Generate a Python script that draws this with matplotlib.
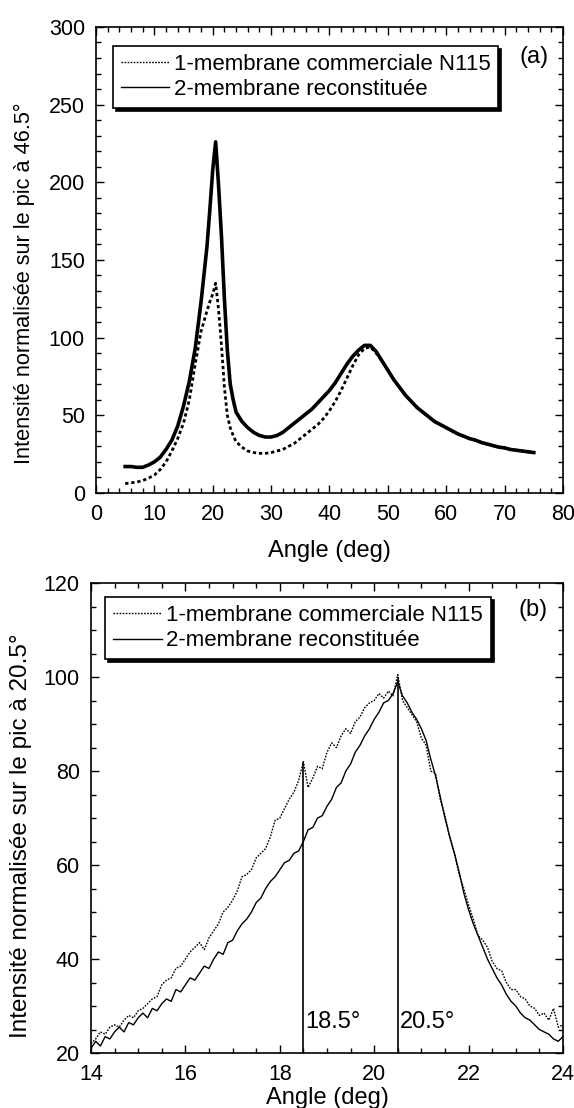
import matplotlib
matplotlib.use('Agg')
import matplotlib.pyplot as plt
from matplotlib.ticker import MultipleLocator

plt.rcParams['font.family'] = ['Liberation Sans', 'DejaVu Sans']

# (a) full scan, normalised on the 46.5 deg peak
angle_a = [5, 6, 7, 8, 9, 10, 11, 12, 13, 14, 15, 16, 17, 18, 19, 19.5, 20, 20.5,
           21, 21.5, 22, 22.5, 23, 23.5, 24, 25, 26, 27, 28, 29, 30, 31, 32, 33, 34,
           35, 36, 37, 38, 39, 40, 41, 42, 43, 44, 45, 46, 47, 48, 49, 50, 51, 52,
           53, 54, 55, 56, 57, 58, 59, 60, 61, 62, 63, 64, 65, 66, 67, 68, 69, 70,
           71, 72, 73, 74, 75]
n115_a = [6, 6.5, 7, 8, 9.5, 11.5, 15, 20, 27, 35, 45, 60, 83, 104, 117, 123, 128, 135,
          118, 95, 68, 50, 42, 37, 33, 29.5, 27, 26, 25.5, 25.5, 26, 27, 28, 30, 32,
          35, 38, 41, 44, 48, 53, 59, 66, 74, 82, 89, 93, 94, 90, 85, 79, 73, 68,
          63, 59, 55, 52, 49, 46, 44, 42, 40, 38, 36.5, 35, 34, 32.5, 31.5, 30.5, 29.5, 29,
          28, 27.5, 27, 26.5, 26]
recon_a = [17, 17, 16.5, 16.5, 18, 20, 23, 28, 34, 43, 56, 72, 93, 123, 158, 182, 208, 226,
           198, 165, 125, 92, 70, 60, 52, 46, 42, 39, 37, 36, 36, 37, 39, 42, 45,
           48, 51, 54, 58, 62, 66, 71, 77, 83, 88, 92, 95, 95, 91, 85, 79, 73, 68,
           63, 59, 55, 52, 49, 46, 44, 42, 40, 38, 36.5, 35, 34, 32.5, 31.5, 30.5, 29.5, 29,
           28, 27.5, 27, 26.5, 26]

# (b) zoom on the 20.5 deg peak, normalised on it
angle_b = [14.0, 14.1, 14.2, 14.3, 14.4, 14.5, 14.6, 14.7, 14.8, 14.9,
           15.0, 15.1, 15.2, 15.3, 15.4, 15.5, 15.6, 15.7, 15.8, 15.9,
           16.0, 16.1, 16.2, 16.3, 16.4, 16.5, 16.6, 16.7, 16.8, 16.9,
           17.0, 17.1, 17.2, 17.3, 17.4, 17.5, 17.6, 17.7, 17.8, 17.9,
           18.0, 18.1, 18.2, 18.3, 18.4, 18.5, 18.6, 18.7, 18.8, 18.9,
           19.0, 19.1, 19.2, 19.3, 19.4, 19.5, 19.6, 19.7, 19.8, 19.9,
           20.0, 20.1, 20.2, 20.3, 20.4, 20.5, 20.6, 20.7, 20.8, 20.9,
           21.0, 21.1, 21.2, 21.3, 21.4, 21.5, 21.6, 21.7, 21.8, 21.9,
           22.0, 22.1, 22.2, 22.3, 22.4, 22.5, 22.6, 22.7, 22.8, 22.9,
           23.0, 23.1, 23.2, 23.3, 23.4, 23.5, 23.6, 23.7, 23.8, 23.9, 24.0]
n115_b = [22.0, 23.0, 24.5, 24.0, 25.5, 26.0, 25.5, 27.0, 28.0, 27.5,
          29.0, 29.5, 30.5, 31.5, 32.0, 34.5, 35.5, 36.0, 38.0, 38.5,
          40.0, 41.5, 42.5, 43.5, 42.0, 44.5, 46.0, 47.5, 50.0, 51.0,
          52.5, 54.5, 57.5, 58.0, 59.0, 61.5, 62.5, 63.5, 66.0, 69.5,
          70.0, 72.0, 74.0, 75.5, 78.0, 82.0, 76.5, 78.5, 81.0, 80.5,
          84.0, 86.0, 85.0, 87.5, 89.0, 88.0, 90.5, 91.5, 93.5, 94.5,
          95.0, 96.5, 95.5, 97.0, 96.0, 100.5, 95.0, 93.5, 92.0, 90.5,
          87.0, 85.5, 80.0, 79.5, 74.0, 70.5, 66.0, 62.5, 58.0, 55.0,
          51.5, 48.5, 45.0, 44.0, 42.5, 39.5, 38.0, 37.5, 35.0, 33.5,
          33.5, 32.0, 31.5, 30.0, 29.5, 28.0, 28.5, 27.0, 29.5, 25.5, 26.0]
recon_b = [21.0, 22.5, 21.5, 23.5, 23.0, 24.5, 25.5, 24.5, 26.5, 26.0,
           27.5, 28.5, 27.5, 29.5, 29.0, 30.5, 31.5, 31.0, 33.5, 33.0,
           34.5, 36.0, 35.5, 37.0, 38.5, 38.0, 40.0, 41.5, 41.0, 43.5,
           44.0, 46.0, 47.5, 48.5, 50.0, 52.0, 53.0, 55.0, 56.5, 57.5,
           59.0, 60.5, 61.0, 62.5, 63.0, 65.0, 67.5, 68.0, 70.0, 70.5,
           72.5, 74.0, 76.5, 77.5, 80.0, 81.5, 84.0, 85.5, 87.5, 89.0,
           91.0, 92.5, 94.5, 95.0, 96.5, 99.0, 96.0, 94.5, 92.5, 91.0,
           89.0, 86.5, 82.5, 79.0, 74.5, 70.0, 66.0, 62.5, 58.5, 54.0,
           50.5, 47.5, 45.0, 42.5, 40.0, 38.0, 36.0, 34.5, 32.5, 31.0,
           30.0, 28.5, 27.5, 27.0, 26.0, 25.0, 24.5, 24.0, 23.0, 22.5, 23.5]
peak_pos = [18.5, 20.5]
peak_top = [82, 100]
peak_labels = ['18.5°', '20.5°']

lab1 = '1-membrane commerciale N115'
lab2 = '2-membrane reconstituée'
dots = (0, (1.2, 1.0))

fig = plt.figure(figsize=(5.74, 11.08), dpi=100)
ax1 = fig.add_axes([0.1672, 0.5551, 0.8136, 0.4206])
ax2 = fig.add_axes([0.1585, 0.0496, 0.8223, 0.4242])


def style_axes(ax):
    ax.tick_params(which='both', direction='in', top=True, right=True,
                   labelsize=15.5, width=1, colors='black')
    ax.tick_params(which='major', length=6, pad=8)
    ax.tick_params(which='minor', length=3.5)
    for s in ax.spines.values():
        s.set_linewidth(1.2)


ax1.plot(angle_a, n115_a, color='black', lw=2.0, ls=dots, label=lab1)
ax1.plot(angle_a, recon_a, color='black', lw=2.6, label=lab2)
ax1.set_xlim(0, 80)
ax1.set_ylim(0, 300)
ax1.xaxis.set_major_locator(MultipleLocator(10))
ax1.xaxis.set_minor_locator(MultipleLocator(2))
ax1.yaxis.set_major_locator(MultipleLocator(50))
ax1.yaxis.set_minor_locator(MultipleLocator(10))
style_axes(ax1)
ax1.set_xlabel('Angle (deg)', fontsize=17)
ax1.set_ylabel('Intensité normalisée sur le pic à 46.5°', fontsize=15.7)
ax1.yaxis.set_label_coords(-0.13, 0.45)
ax1.xaxis.set_label_coords(0.5, -0.1)
ax1.text(0.938, 0.936, '(a)', transform=ax1.transAxes, fontsize=17,
         ha='center', va='center')

ax2.plot(angle_b, n115_b, color='black', lw=1.0, ls=dots, label=lab1)
ax2.plot(angle_b, recon_b, color='black', lw=1.0, label=lab2)
ax2.vlines(peak_pos, 20, peak_top, color='black', lw=1.2)
for p, t in zip(peak_pos, peak_labels):
    ax2.text(p + 0.05, 26.6, t, fontsize=17, ha='left', va='center')
ax2.set_xlim(14, 24)
ax2.set_ylim(20, 120)
ax2.xaxis.set_major_locator(MultipleLocator(2))
ax2.xaxis.set_minor_locator(MultipleLocator(0.5))
ax2.yaxis.set_major_locator(MultipleLocator(20))
ax2.yaxis.set_minor_locator(MultipleLocator(5))
style_axes(ax2)
ax2.set_xlabel('Angle (deg)', fontsize=17)
ax2.set_ylabel('Intensité normalisée sur le pic à 20.5°', fontsize=17.5)
ax2.yaxis.set_label_coords(-0.125, 0.462)
ax2.xaxis.set_label_coords(0.5, -0.072)
ax2.text(0.936, 0.943, '(b)', transform=ax2.transAxes, fontsize=17,
         ha='center', va='center')

for ax, anchor in [(ax1, (0.036, 0.959)), (ax2, (0.030, 0.970))]:
    leg = ax.legend(loc='upper left', bbox_to_anchor=anchor, fontsize=16.0,
                    frameon=True, fancybox=False, framealpha=1, edgecolor='black',
                    shadow={'color': 'black', 'alpha': 1}, borderpad=0.35,
                    handlelength=2.2, handletextpad=0.2, labelspacing=0.2,
                    borderaxespad=0)
    leg.get_frame().set_linewidth(1.2)
    for h in leg.get_lines():
        h.set_linewidth(1.0)

fig.savefig('out.png', dpi=100)
